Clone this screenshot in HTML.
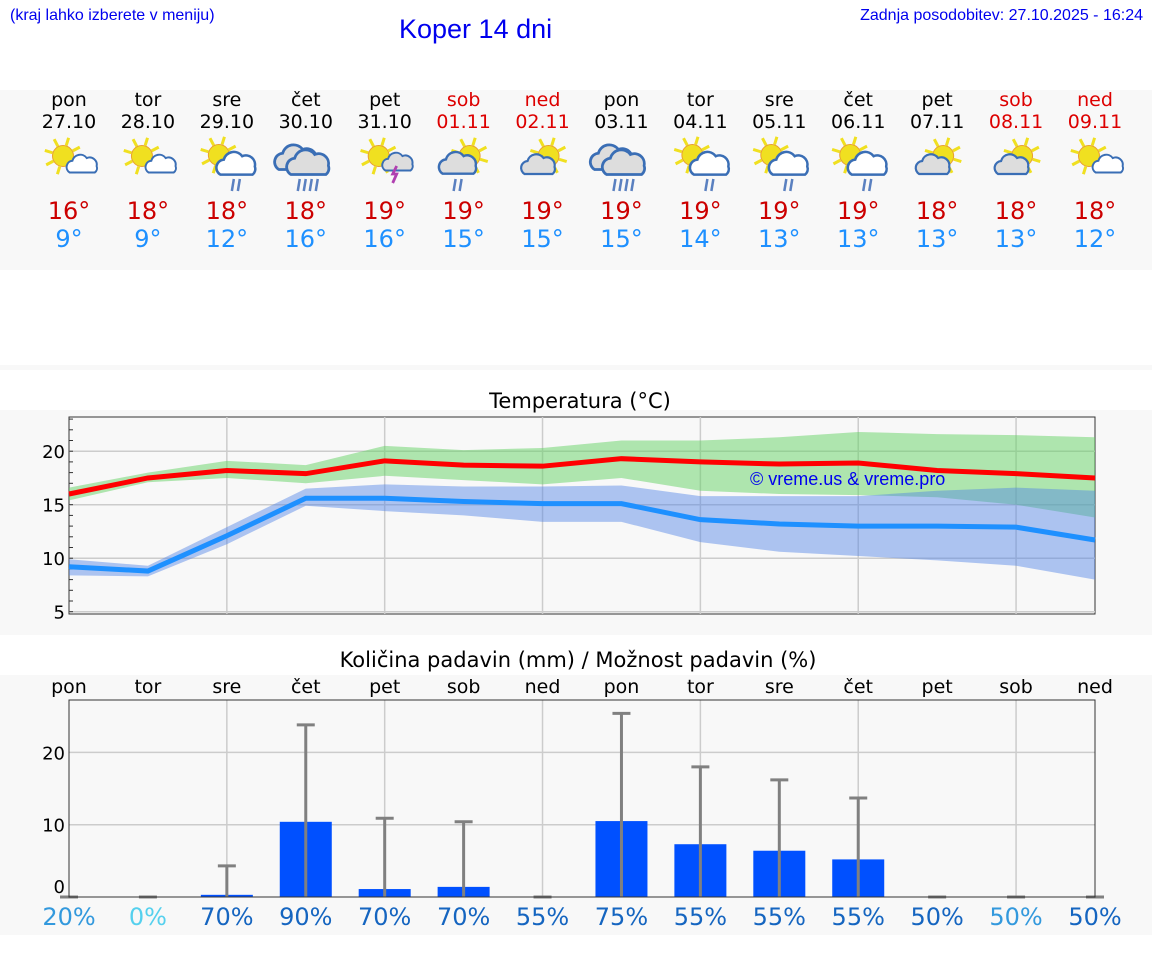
<!DOCTYPE html>
<html><head><meta charset="utf-8">
<style>
body{margin:0;width:1152px;height:975px;background:#fff;font-family:"DejaVu Sans","Liberation Sans",sans-serif;position:relative;overflow:hidden}
.abs{position:absolute}
.panel{position:absolute;left:0;width:1152px;background:#f8f8f8}
.day{position:absolute;width:80px;text-align:center;font-size:19px;line-height:22px}
.tmax{position:absolute;width:80px;text-align:center;font-size:24px;color:#cc0000}
.tmin{position:absolute;width:80px;text-align:center;font-size:24px;color:#1e90ff}
</style></head><body>
<div class="abs" style="left:10px;top:7px;font-size:16px;color:#0000ee;font-family:'Liberation Sans',sans-serif">(kraj lahko izberete v meniju)</div>
<div class="abs" style="left:399px;top:14px;font-size:27px;color:#0000ee;font-family:'Liberation Sans',sans-serif">Koper 14 dni</div>
<div class="abs" style="right:9px;top:7px;font-size:16px;color:#0000ee;font-family:'Liberation Sans',sans-serif">Zadnja posodobitev: 27.10.2025 - 16:24</div>
<div class="panel" style="top:90px;height:180px"></div>
<div class="panel" style="top:365px;height:5px"></div>
<div class="panel" style="top:410px;height:225px"></div>
<div class="panel" style="top:675px;height:260px"></div>
<div id="days"></div>
<svg id="chart" class="abs" style="left:0;top:0" width="1152" height="975"></svg>
<script>
const dayNames=["pon","tor","sre","čet","pet","sob","ned","pon","tor","sre","čet","pet","sob","ned"];
const dates=["27.10","28.10","29.10","30.10","31.10","01.11","02.11","03.11","04.11","05.11","06.11","07.11","08.11","09.11"];
const hiText=[16,18,18,18,19,19,19,19,19,19,19,18,18,18];
const loText=[9,9,12,16,16,15,15,15,14,13,13,13,13,12];
const icons=["sc","sc","scr","cr","st","sgr","sg","cr","scr","scr","scr","sg","sg","sc"];
const tMax=[16,17.5,18.2,17.9,19.1,18.7,18.6,19.3,19.0,18.8,18.9,18.2,17.9,17.5];
const tMaxHi=[16.6,18,19.1,18.7,20.5,20.1,20.3,21.0,21.0,21.3,21.8,21.6,21.5,21.3];
const tMaxLo=[15.4,17.1,17.5,17.0,17.7,17.3,16.9,17.5,16.3,16.0,15.9,15.7,15.0,13.8];
const tMin=[9.2,8.8,12.1,15.6,15.6,15.3,15.1,15.1,13.6,13.2,13.0,13.0,12.9,11.7];
const tMinHi=[9.9,9.3,12.9,16.5,16.9,16.7,16.7,16.8,15.8,15.8,15.8,16.3,16.6,16.3];
const tMinLo=[8.4,8.3,11.3,14.9,14.4,14.0,13.4,13.4,11.5,10.6,10.2,9.8,9.3,8.0];
const precip=[0,0,0.3,10.4,1.1,1.4,0,10.5,7.3,6.4,5.2,0,0,0];
const precipMax=[0,0,4.3,23.8,10.9,10.4,0,25.4,18,16.2,13.7,0,0,0];
const probs=[20,0,70,90,70,70,55,75,55,55,55,50,50,50];
const tTicks=[5,10,15,20];
const pTicks=[0,10,20];

const X=i=>69+i*(1095-69)/13;
const tY=v=>611.7-(v-5)*10.7;
const pY=v=>897-v*7.23;
const NS="http://www.w3.org/2000/svg";
const svg=document.getElementById('chart');
function mk(tag,attrs,parent){const e=document.createElementNS(NS,tag);for(const k in attrs)e.setAttribute(k,attrs[k]);(parent||svg).appendChild(e);return e;}

const days=document.getElementById('days');
for(let i=0;i<14;i++){
  const wk=i==5||i==6||i==12||i==13;
  const d=document.createElement('div');d.className='day';
  
  
  d.style.left=(X(i)-40)+'px';d.style.top='89px';d.style.color=wk?'#dd0000':'#000';
  d.innerHTML=dayNames[i]+'<br>'+dates[i];days.appendChild(d);
  const h=document.createElement('div');h.className='tmax';
  
  
  h.style.left=(X(i)-40)+'px';h.style.top='197px';h.textContent=hiText[i]+'°';days.appendChild(h);
  const l=document.createElement('div');l.className='tmin';
  
  
  l.style.left=(X(i)-40)+'px';l.style.top='225px';l.textContent=loText[i]+'°';days.appendChild(l);
  const p=document.createElement('div');p.className='tmin';
  
  
  p.style.left=(X(i)-40)+'px';p.style.top='903px';
  p.style.color=probs[i]==0?'#55d0ee':(probs[i]<=20||i==12?'#3399dd':'#1565c0');
  p.textContent=probs[i]+'%';days.appendChild(p);
}
function sun(g,cx,cy){for(let a=0;a<8;a++){const an=a*Math.PI/4+0.3;mk('line',{x1:cx+Math.cos(an)*11,y1:cy+Math.sin(an)*11,x2:cx+Math.cos(an)*19,y2:cy+Math.sin(an)*19,stroke:'#f0e020','stroke-width':3},g);}mk('circle',{cx:cx,cy:cy,r:10.5,fill:'#f0e020',stroke:'#e8a030','stroke-width':1},g);}
function cloud(g,cx,cy,s,fill){const p=`M${cx-14*s},${cy+8*s} a7 7 0 0 1 3,-13 a9 9 0 0 1 16,-3 a8 8 0 0 1 11,9 a6 6 0 0 1 -2,7 z`;mk('path',{d:p,fill:fill,stroke:'#3a6eb5','stroke-width':2.2,transform:`translate(${cx*(1-s)},${cy*(1-s)}) scale(${s})`},g);}
function rain(g,cx,cy,n){for(let k=0;k<n;k++)mk('line',{x1:cx+k*6+2,y1:cy,x2:cx+k*6,y2:cy+12,stroke:'#5a80c0','stroke-width':2.5},g);}
for(let i=0;i<14;i++){
  const g=mk('g',{});
  
  
  const cx=X(i),cy=160,t=icons[i];
  if(t=='sc'){sun(g,cx-6,cy-4);cloud(g,cx+12,cy+6,0.9,'#fff');}
  if(t=='scr'){sun(g,cx-8,cy-5);cloud(g,cx+12,cy+4,1.15,'#fff');rain(g,cx+5,cy+19,2);}
  if(t=='cr'){cloud(g,cx-5,cy-3,1.25,'#ddd');cloud(g,cx+7,cy+2,1.25,'#ddd');rain(g,cx-8,cy+19,4);}
  if(t=='st'){sun(g,cx-6,cy-4);cloud(g,cx+12,cy+4,0.9,'#ddd');mk('path',{d:`M${cx+12},${cy+6} l-4,8 h4 l-4,9`,stroke:'#b040b0','stroke-width':2.8,fill:'none'},g);}
  if(t=='sgr'){sun(g,cx+6,cy-4);cloud(g,cx-4,cy+4,1.1,'#ddd');rain(g,cx-10,cy+19,2);}
  if(t=='sg'){sun(g,cx+6,cy-4);cloud(g,cx-4,cy+6,1.0,'#ddd');}
}
const TL=69,TR=1095,TT=417,TB=614;
mk('text',{x:580,y:408,'text-anchor':'middle','font-size':21,fill:'#000',}).textContent='Temperatura (°C)';
mk('rect',{x:TL,y:TT,width:TR-TL,height:TB-TT,fill:'none',stroke:'#333','stroke-width':1});
for(let i=1;i<13;i++){if(i%2==0)mk('line',{x1:X(i),y1:TT,x2:X(i),y2:TB,stroke:'#ccc','stroke-width':1.5});}
tTicks.forEach(v=>{mk('line',{x1:TL,y1:tY(v),x2:TR,y2:tY(v),stroke:'#ccc','stroke-width':1.5});const t=mk('text',{x:TL-4,y:tY(v)+7,'text-anchor':'end','font-size':18,fill:'#000'});t.textContent=v;});
for(let v=5;v<=23;v++)mk('line',{x1:TL,y1:tY(v),x2:TL+4,y2:tY(v),stroke:'#333'});
function band(hi,lo,color,name){let d='';hi.forEach((v,i)=>d+=(i?'L':'M')+X(i)+','+tY(v));for(let i=lo.length-1;i>=0;i--)d+='L'+X(i)+','+tY(lo[i]);const p=mk('path',{d:d+'Z',fill:color});}
function line(vals,color,name){const p=mk('polyline',{points:vals.map((v,i)=>X(i)+','+tY(v)).join(' '),fill:'none',stroke:color,'stroke-width':5});}
band(tMaxHi,tMaxLo,'rgba(100,210,100,0.5)','max-temp-band');
band(tMinHi,tMinLo,'rgba(80,130,230,0.45)','min-temp-band');
line(tMax,'#ff0000','max-temp-line');
line(tMin,'#1e90ff','min-temp-line');
mk('text',{x:750,y:485,'font-size':18,fill:'#0000ee','font-family':'Liberation Sans,sans-serif'}).textContent='© vreme.us & vreme.pro';
const PT=700,PB=897;
mk('text',{x:578,y:667,'text-anchor':'middle','font-size':21,fill:'#000',}).textContent='Količina padavin (mm) / Možnost padavin (%)';
for(let i=0;i<14;i++){const t=mk('text',{x:X(i),y:693,'text-anchor':'middle','font-size':19,fill:'#000'});t.textContent=dayNames[i];}
for(let i=1;i<13;i++){if(i%2==0)mk('line',{x1:X(i),y1:PT,x2:X(i),y2:PB,stroke:'#ccc','stroke-width':1.5});}
pTicks.forEach(v=>{if(v>0)mk('line',{x1:TL,y1:pY(v),x2:TR,y2:pY(v),stroke:'#ccc','stroke-width':1.5});const t=mk('text',{x:TL-4,y:pY(v)+(v==0?-4:7),'text-anchor':'end','font-size':18,fill:'#000'});t.textContent=v;});
for(let i=0;i<14;i++){
  if(precip[i]>0){const r=mk('rect',{x:X(i)-26,y:pY(precip[i]),width:52,height:PB-pY(precip[i]),fill:'#0050ff'});}
  const e=mk('g',{});
  mk('line',{x1:X(i),y1:PB,x2:X(i),y2:pY(precipMax[i]),stroke:'#808080','stroke-width':3},e);
  mk('line',{x1:X(i)-9,y1:pY(precipMax[i]),x2:X(i)+9,y2:pY(precipMax[i]),stroke:'#808080','stroke-width':3},e);
}
mk('rect',{x:TL,y:PT,width:TR-TL,height:PB-PT,fill:'none',stroke:'#333','stroke-width':1});
</script>
</body></html>
